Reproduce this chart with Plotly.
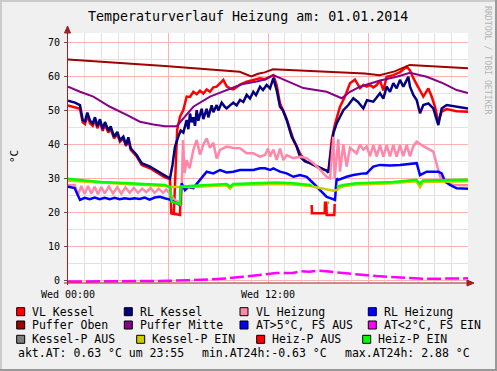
import plotly.graph_objects as go

# ---------------- data (hours since 00:00, °C) ----------------
vl_kessel_t = [0.00, 0.42, 0.72, 0.88, 1.02, 1.16, 1.32, 1.48, 1.62, 1.76, 1.92, 2.08, 2.22, 2.42, 2.56,
               2.76, 2.96, 3.12, 3.32, 3.48, 3.62, 3.76, 4.12, 4.42, 4.92, 5.52, 5.82, 6.12, 6.20, 6.35,
               6.45, 6.55, 6.72, 6.92, 7.12, 7.32, 7.52, 7.72, 7.92, 8.12, 8.32, 8.52, 8.72, 8.92, 9.12,
               9.32, 9.52, 9.72, 9.92, 10.32, 10.72, 11.12, 11.52, 11.82, 12.12, 12.32, 12.52, 12.72, 13.12,
               13.52, 13.92, 14.22, 14.52, 15.02, 15.52, 15.62, 15.82, 16.02, 16.32, 16.62, 16.92, 17.22,
               17.52, 17.72, 17.92, 18.12, 18.32, 18.52, 18.72, 18.92, 19.12, 19.52, 19.92, 20.32, 20.52,
               20.72, 21.02, 21.32, 21.62, 21.82, 22.02, 22.22, 22.42, 22.72, 23.32, 24.00]
vl_kessel_v = [51.5, 51.0, 50.5, 46.5, 46.0, 48.5, 46.2, 45.5, 47.2, 44.8, 46.6, 44.0, 45.8, 43.5, 44.6,
               41.8, 43.0, 40.8, 41.8, 39.5, 41.5, 38.5, 36.5, 34.0, 33.0, 31.2, 30.3, 29.8, 19.8, 19.6,
               35.0, 44.3, 48.2, 50.1, 54.1, 54.0, 55.5, 54.8, 55.8, 55.0, 56.2, 55.5, 56.8, 57.0, 58.0,
               59.0, 57.1, 56.5, 56.2, 57.6, 58.5, 59.0, 59.5, 59.2, 59.8, 60.4, 57.5, 52.1, 47.5,
               41.5, 37.4, 35.2, 34.5, 33.2, 32.3, 31.9, 41.3, 46.0, 51.1, 54.1, 58.0, 59.1,
               56.6, 57.5, 57.0, 57.5, 56.8, 57.5, 58.8, 55.9, 59.9, 60.4, 61.3, 62.9, 61.8,
               59.5, 56.8, 54.1, 56.5, 54.1, 51.1, 46.7, 49.7, 50.4, 49.8, 49.6]

rl_kessel_t = [0.00, 0.42, 0.72, 0.88, 1.02, 1.16, 1.32, 1.48, 1.62, 1.76, 1.92, 2.08, 2.22, 2.42, 2.56,
               2.76, 2.96, 3.12, 3.32, 3.48, 3.62, 3.76, 4.12, 4.42, 4.92, 5.52, 5.82, 6.12, 6.27, 6.42,
               6.62, 6.76, 6.92, 7.12, 7.22, 7.32, 7.42, 7.52, 7.62, 7.72, 7.82, 7.92, 8.02, 8.12, 8.22,
               8.32, 8.42, 8.52, 8.62, 8.72, 8.92, 9.02, 9.22, 9.42, 9.52, 9.72, 9.92, 10.12, 10.32, 10.52,
               10.72, 10.92, 11.12, 11.28, 11.52, 11.70, 11.92, 12.12, 12.32, 12.52, 12.72, 12.90, 13.12,
               13.42, 13.72, 13.92, 14.22, 14.52, 15.02, 15.52, 15.62, 15.72, 15.92, 16.12, 16.32, 16.52,
               16.82, 17.12, 17.40, 17.72, 17.94, 18.32, 18.72, 18.92, 19.12, 19.32, 19.52, 19.72, 19.92,
               20.12, 20.42, 20.52, 20.72, 20.92, 21.12, 21.32, 21.62, 21.92, 22.22, 22.42, 22.72, 23.32,
               24.00]
rl_kessel_v = [52.9, 52.3, 51.6, 47.2, 46.8, 49.4, 47.0, 46.2, 48.0, 45.4, 47.4, 44.6, 46.6, 44.1, 45.3,
               42.3, 43.7, 41.3, 42.3, 39.9, 42.1, 38.9, 36.9, 34.5, 33.5, 31.7, 30.7, 30.0, 34.0, 39.4,
               42.3, 44.1, 43.5, 47.2, 44.5, 49.1, 46.5, 48.0, 45.5, 50.1, 47.0, 48.5, 50.5, 47.5, 49.0,
               50.5, 48.0, 49.5, 51.5, 49.5, 51.6, 50.0, 52.3, 51.0, 50.6, 51.5, 52.3, 51.5, 53.1, 52.5,
               54.6, 53.5, 55.5, 54.5, 57.0, 56.0, 57.5, 56.5, 59.5, 56.0, 51.1, 50.0, 47.2,
               42.3, 39.4, 36.4, 35.0, 34.5, 33.5, 32.3, 31.7, 35.4, 43.3, 46.2, 48.2, 50.1,
               51.6, 53.6, 52.5, 50.6, 53.0, 52.6, 55.1, 53.5, 57.0, 55.5, 58.0, 56.5, 59.0,
               57.0, 59.9, 57.0, 54.6, 53.1, 49.2, 51.6, 52.1, 50.6, 45.7, 50.6, 51.6, 51.1,
               50.6]

vl_heizung_t = [0.00, 0.40, 0.60, 0.80, 1.00, 1.20, 1.40, 1.60, 1.80, 2.00, 2.20, 2.45, 2.70, 2.95, 3.20,
                3.45, 3.70, 3.95, 4.20, 4.45, 4.70, 4.95, 5.20, 5.45, 5.70, 5.90, 6.10, 6.40, 6.80, 6.90,
                7.00, 7.12, 7.30, 7.52, 7.72, 7.92, 8.12, 8.32, 8.52, 8.72, 8.92, 9.12, 9.52, 9.92, 10.32,
                10.72, 11.12, 11.52, 11.82, 12.00, 12.12, 12.32, 12.52, 12.72, 12.92, 13.12, 13.52, 13.92,
                14.32, 14.72, 15.12, 15.52, 15.72, 15.92, 16.00, 16.22, 16.32, 16.52, 16.72, 16.92, 17.32,
                17.52, 17.72, 17.92, 18.12, 18.32, 18.52, 18.72, 18.92, 19.12, 19.32, 19.52, 19.72, 19.92,
                20.12, 20.32, 20.52, 20.72, 20.92, 21.32, 21.92, 22.12, 22.32, 22.52, 23.12, 24.00]
vl_heizung_v = [28.0, 28.1, 25.2, 27.8, 25.4, 27.8, 25.5, 27.6, 25.4, 27.5, 25.6, 27.6, 25.6, 27.4, 25.5,
                27.4, 25.8, 27.2, 25.8, 27.0, 26.0, 27.2, 25.8, 27.0, 25.8, 26.8, 25.5, 23.7, 22.7, 41.3,
                31.6, 35.4, 33.0, 38.4, 41.3, 37.0, 40.0, 41.8, 39.0, 40.5, 35.9, 38.4, 39.4, 39.0, 38.9,
                37.4, 37.4, 36.4, 36.9, 38.8, 36.5, 38.5, 35.5, 38.8, 35.4, 36.9, 36.0, 36.4,
                36.0, 34.5, 32.6, 30.5, 30.0, 42.3, 30.0, 41.5, 32.0, 40.0, 33.5, 39.0, 37.4,
                39.9, 38.5, 39.4, 36.6, 39.8, 36.5, 39.9, 36.4, 39.8, 36.5, 39.9, 36.4, 39.8,
                36.6, 39.9, 36.5, 39.5, 40.8, 39.5, 37.9, 34.5, 30.6, 29.1, 28.1, 28.0]

rl_heizung_t = [0.00, 0.40, 0.55, 0.72, 1.00, 1.30, 1.60, 1.90, 2.20, 2.50, 2.80, 3.10, 3.40, 3.70, 4.00,
                4.30, 4.60, 4.90, 5.20, 5.52, 5.80, 6.12, 6.32, 6.72, 6.82, 7.02, 7.20, 7.52, 7.92, 8.32,
                8.72, 9.12, 9.52, 9.92, 10.32, 10.72, 11.12, 11.52, 11.82, 12.12, 12.32, 12.52, 12.72, 13.12,
                13.52, 13.92, 14.32, 14.72, 15.12, 15.52, 15.82, 16.02, 16.12, 16.22, 16.72, 17.12, 17.72,
                17.92, 18.12, 18.32, 18.72, 19.32, 19.92, 20.52, 20.92, 21.12, 21.52, 22.22, 22.42, 22.62,
                22.92, 23.32, 24.00]
rl_heizung_v = [27.6, 27.2, 25.5, 23.7, 24.3, 23.9, 24.4, 23.9, 24.3, 23.9, 24.3, 23.9, 24.2, 24.0, 24.2,
                24.0, 24.4, 23.8, 24.4, 24.6, 24.2, 23.8, 23.2, 22.2, 28.6, 26.6, 27.5, 27.2, 29.6, 32.0,
                31.5, 32.5, 31.8, 32.0, 32.5, 32.5, 32.5, 33.0, 33.0, 32.5, 33.0, 32.5, 32.0, 31.5,
                30.5, 31.0, 30.5, 28.6, 26.6, 24.6, 24.1, 23.7, 30.0, 29.6, 30.5, 31.0, 31.5,
                31.5, 32.5, 33.5, 34.0, 33.8, 34.0, 34.2, 34.5, 31.0, 32.0, 32.0, 31.5, 29.1,
                28.1, 27.1, 27.0]

puffer_oben_t = [0.0, 5.8, 10.3, 10.8, 11.0, 11.4, 11.8, 12.3, 15.1, 17.8, 18.7, 19.6, 20.5, 24.0]
puffer_oben_v = [65.0, 63.1, 61.4, 60.3, 60.0, 60.8, 61.2, 62.1, 61.6, 60.9, 60.4, 61.5, 63.4, 62.4]

puffer_mitte_t = [0.0, 0.72, 1.52, 2.52, 3.52, 4.32, 5.12, 5.82, 6.52, 7.12, 7.52, 8.52, 9.52, 10.42,
                  11.32, 11.82, 12.32, 13.52, 14.12, 15.52, 16.42, 16.92, 17.52, 18.72, 19.72, 20.52,
                  21.52, 22.52, 23.32, 24.0]
puffer_mitte_v = [57.0, 55.5, 54.1, 51.1, 48.7, 46.7, 45.9, 45.4, 45.4, 48.7, 51.1, 54.1, 56.0, 57.7,
                  58.5, 59.1, 60.4, 58.0, 56.6, 55.5, 53.6, 55.5, 57.0, 58.8, 59.9, 61.1,
                  59.9, 58.0, 56.0, 55.1]

at_lt2_t = [0.0, 1.0, 2.0, 3.0, 4.0, 5.0, 6.0, 7.5, 8.5, 9.5, 10.5, 11.5, 12.0, 12.5, 13.5, 14.0, 14.5,
            15.0, 15.5, 16.2, 17.0, 17.8, 18.5, 19.5, 20.5, 21.5, 22.5, 23.5, 24.0]
at_lt2_v = [-0.3, -0.3, -0.3, -0.3, -0.25, -0.2, -0.1, 0.1, 0.35, 0.6, 1.1, 1.6, 2.0, 2.2, 2.2, 2.7, 2.6,
            2.88, 2.7, 2.3, 2.0, 1.6, 1.3, 0.9, 0.7, 0.5, 0.5, 0.7, 0.63]

kessel_p_ein_t = [0.0, 1.0, 2.0, 4.0, 5.82, 6.12, 6.72, 7.52, 9.52, 9.72, 9.92, 11.82, 12.5, 13.5, 14.52,
                  15.02, 15.52, 15.92, 16.12, 16.32, 16.52, 17.3, 18.0, 19.5, 20.9, 21.12, 21.3, 22.5, 24.0]
kessel_p_ein_v = [29.3, 29.0, 28.7, 28.2, 27.8, 27.6, 27.5, 27.5, 28.0, 27.0, 28.0, 28.4, 28.4, 28.2, 27.8,
                  27.3, 26.8, 26.4, 26.6, 27.3, 27.7, 28.2, 28.3, 28.6, 29.2, 27.5, 29.0, 29.1, 29.2]

heiz_p_aus_t = [6.20, 6.72, 6.76, None, 14.62, 14.64, 15.40, 15.42, 15.50, 15.52, 15.98, 16.00]
heiz_p_aus_v = [19.8, 19.3, 27.5, None, 22.2, 19.8, 19.8, 22.9, 22.9, 19.3, 19.3, 22.5]

heiz_p_ein_t = [0.0, 0.5, 1.0, 2.0, 2.56, 4.0, 5.82, 6.05, 6.12, 6.22, 6.72, 6.76, 7.52, 9.52, 9.72, 9.92,
                11.82, 12.5, 13.5, 14.52, 14.62, None, 15.58, 15.66, None, 16.12, 16.52, 17.3, 18.0,
                19.5, 20.9, 21.12, 21.3, 22.5, 24.0]
heiz_p_ein_v = [29.9, 29.6, 29.4, 29.0, 28.8, 28.5, 28.1, 27.5, 27.4, 23.2, 22.4, 27.6, 27.9, 28.4, 27.6, 28.4,
                28.8, 28.8, 28.6, 28.1, 27.8, None, 22.9, 22.9, None, 27.6, 28.1, 28.6, 28.7,
                29.0, 29.6, 28.4, 29.4, 29.5, 29.6]

x_tick_vals = [0, 6, 12, 18, 24]
x_tick_text = ["Wed 00:00", "", "Wed 12:00", "", ""]
y_tick_vals = [0, 10, 20, 30, 40, 50, 60, 70]

legend_rows = [
    [("VL Kessel", "#FF0000"), ("RL Kessel", "#000080"), ("VL Heizung", "#FF88AA"), ("RL Heizung", "#0000FF")],
    [("Puffer Oben", "#A00000"), ("Puffer Mitte", "#880088"), ("AT>5°C, FS AUS", "#0000FF"), ("AT<2°C, FS EIN", "#FF00FF")],
    [("Kessel-P AUS", "#808080"), ("Kessel-P EIN", "#CCCC00"), ("Heiz-P AUS", "#FF0000"), ("Heiz-P EIN", "#00FF00")],
]
summary = ["akt.AT: 0.63 °C um 23:55", "min.AT24h:-0.63 °C", "max.AT24h: 2.88 °C"]
title = "Temperaturverlauf Heizung am: 01.01.2014"

# ---------------- geometry helpers (pixel -> paper) ----------------
L, R, T, B = 68, 468, 33, 283
W, H = 497, 371
def px(x):
    return (x - L) / (R - L)
def py(y):
    return (B - y) / (B - T)

MONO = "DejaVu Sans Mono"
fig = go.Figure()

def add(t, v, color, width=2.5, dash=None):
    fig.add_trace(go.Scatter(x=t, y=v, mode="lines", connectgaps=False, showlegend=False,
                             hoverinfo="skip",
                             line=dict(color=color, width=width, dash=dash)))

add(vl_kessel_t, vl_kessel_v, "#FF0000", 2.5)
add(rl_kessel_t, rl_kessel_v, "#000080", 2.5)
add(vl_heizung_t, vl_heizung_v, "#FF88AA", 2.5)
add(rl_heizung_t, rl_heizung_v, "#0000FF", 2.5)
add(puffer_oben_t, puffer_oben_v, "#A00000", 2)
add(puffer_mitte_t, puffer_mitte_v, "#880088", 2)
add(at_lt2_t, at_lt2_v, "#FF00FF", 2.5, "14px,4px")
add(kessel_p_ein_t, kessel_p_ein_v, "#CCCC00", 2.5)
add(heiz_p_aus_t, heiz_p_aus_v, "#FF0000", 2.5)
add(heiz_p_ein_t, heiz_p_ein_v, "#00FF00", 2.5)

shapes = []
annotations = []

# outer border
shapes += [
    dict(type="rect", xref="paper", yref="paper", x0=px(0), x1=px(W), y0=py(0), y1=py(2),
         fillcolor="#CBCBCB", line=dict(width=0), layer="above"),
    dict(type="rect", xref="paper", yref="paper", x0=px(0), x1=px(2), y0=py(0), y1=py(H),
         fillcolor="#CBCBCB", line=dict(width=0), layer="above"),
    dict(type="rect", xref="paper", yref="paper", x0=px(0), x1=px(W), y0=py(H - 2), y1=py(H),
         fillcolor="#999999", line=dict(width=0), layer="above"),
    dict(type="rect", xref="paper", yref="paper", x0=px(W - 2), x1=px(W), y0=py(0), y1=py(H),
         fillcolor="#999999", line=dict(width=0), layer="above"),
]

AX = "#A02020"
# axes lines and arrows
shapes.append(dict(type="line", xref="paper", yref="paper", x0=px(67.5), x1=px(67.5), y0=py(285), y1=py(30),
                   line=dict(color=AX, width=1), layer="above"))
shapes.append(dict(type="line", xref="paper", yref="paper", x0=px(64), x1=px(471), y0=py(283), y1=py(283),
                   line=dict(color=AX, width=1), layer="above"))
shapes.append(dict(type="path", xref="paper", yref="paper",
                   path=f"M {px(64.5)},{py(33)} L {px(67.5)},{py(26)} L {px(70.5)},{py(33)} Z",
                   fillcolor=AX, line=dict(color=AX, width=1), layer="above"))
shapes.append(dict(type="path", xref="paper", yref="paper",
                   path=f"M {px(467)},{py(280)} L {px(474)},{py(283)} L {px(467)},{py(286)} Z",
                   fillcolor=AX, line=dict(color=AX, width=1), layer="above"))

# legend
col_x = [[16.7, 124.3, 240, 368.3], [16.7, 124.3, 240, 368.3], [16.7, 136.7, 256.7, 362.7]]
row_y = [311.7, 325.0, 339.3]
for r, row in enumerate(legend_rows):
    for c, (label, color) in enumerate(row):
        x0 = col_x[r][c]
        y0 = row_y[r]
        shapes.append(dict(type="rect", xref="paper", yref="paper",
                           x0=px(x0), x1=px(x0 + 8), y0=py(y0 + 4), y1=py(y0 - 4),
                           fillcolor=color, line=dict(color="#000000", width=1), layer="above"))
        annotations.append(dict(x=px(x0 + 13.5), y=py(y0), xref="paper", yref="paper", text=label,
                                showarrow=False, xanchor="left", yanchor="middle",
                                font=dict(family=MONO, size=11.5, color="#000000")))

for sx, s in zip([16.7, 200, 343.3], summary):
    annotations.append(dict(x=px(sx - 0.5), y=py(353.3), xref="paper", yref="paper", text=s,
                            showarrow=False, xanchor="left", yanchor="middle",
                            font=dict(family=MONO, size=11.5, color="#000000")))

annotations.append(dict(x=px(248), y=py(16.5), xref="paper", yref="paper", text=title, showarrow=False,
                        xanchor="center", yanchor="middle", font=dict(family=MONO, size=13.3, color="#000000")))
annotations.append(dict(x=px(14), y=py(157), xref="paper", yref="paper", text="°C", showarrow=False,
                        textangle=-90, xanchor="center", yanchor="middle",
                        font=dict(family=MONO, size=11, color="#000000")))
annotations.append(dict(x=px(488), y=py(60), xref="paper", yref="paper", text="RRDTOOL / TOBI OETIKER",
                        showarrow=False, textangle=90, xanchor="center", yanchor="middle",
                        font=dict(family=MONO, size=8.2, color="#B4B4B4")))

fig.update_layout(
    width=W, height=H,
    margin=dict(l=L, r=W - R, t=T, b=H - B, pad=0),
    paper_bgcolor="#F0F0F0", plot_bgcolor="#FFFFFF",
    showlegend=False,
    shapes=shapes, annotations=annotations,
    xaxis=dict(range=[0, 24], tickvals=x_tick_vals, ticktext=x_tick_text, showgrid=True,
               gridcolor="#FFB0B0", gridwidth=1, zeroline=False, showline=False, ticks="",
               ticklabelstandoff=4,
               tickfont=dict(family=MONO, size=10, color="#000000"),
               minor=dict(dtick=1, showgrid=True, gridcolor="#E2E2E2", gridwidth=1),
               fixedrange=True),
    yaxis=dict(range=[-0.735, 72.79], tickvals=y_tick_vals, showgrid=True, gridcolor="#FFB0B0",
               gridwidth=1, zeroline=False, showline=False, ticks="outside", ticklen=3,
               tickcolor="#555555", ticklabelstandoff=2,
               tickfont=dict(family=MONO, size=10, color="#000000"),
               minor=dict(dtick=5, showgrid=True, gridcolor="#E2E2E2", gridwidth=1),
               fixedrange=True),
)

fig.write_html("out.html", config={"displayModeBar": False},
               post_script="document.body.style.margin='0';document.body.style.padding='0';"
                           "document.body.style.overflow='hidden';")
